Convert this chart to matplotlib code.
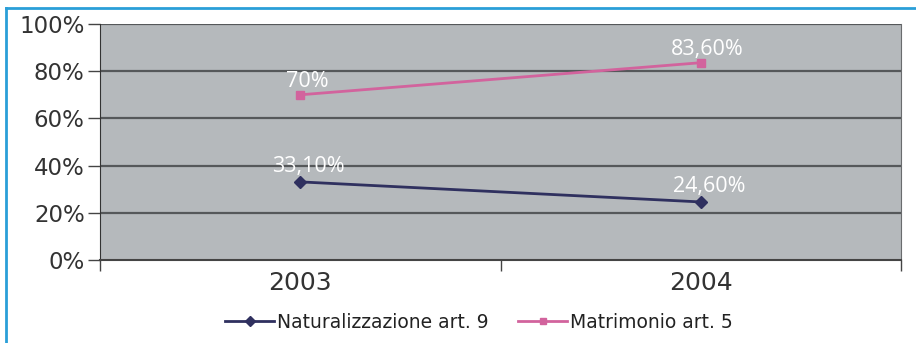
import matplotlib
matplotlib.use("Agg")
import matplotlib.pyplot as plt
from matplotlib.lines import Line2D
from matplotlib.ticker import FixedLocator

years = ["2003", "2004"]
naturalizzazione = [33.1, 24.6]
matrimonio = [70.0, 83.6]
nat_labels = ["33,10%", "24,60%"]
mat_labels = ["70%", "83,60%"]
y_ticks = [0, 20, 40, 60, 80, 100]
y_tick_labels = ["0%", "20%", "40%", "60%", "80%", "100%"]
series_names = ["Naturalizzazione art. 9", "Matrimonio art. 5"]

fig = plt.figure(figsize=(9.16, 3.43), dpi=100)
ax = fig.add_axes([100/916, 1-260/343, 801/916, 236/343])
ax.set_facecolor("#b5b9bc")

x = list(range(len(years)))
ax.set_xlim(-0.5, len(years) - 0.5)
ax.set_ylim(0, 100)

for yv in y_ticks[1:]:
    ax.axhline(yv, color="#55585a", lw=1.6, zorder=1)

nat_color = "#2f305f"
mat_color = "#d2639d"
ax.plot(x, naturalizzazione, color=nat_color, lw=2, marker="D", ms=6, zorder=3)
ax.plot(x, matrimonio, color=mat_color, lw=2, marker="s", ms=6, zorder=3)

for xi, v, t in zip(x, naturalizzazione, nat_labels):
    ax.annotate(t, (xi, v), xytext=(8, 15), textcoords="offset pixels",
                ha="center", va="center", color="white", fontsize=15.5, family="Open Sans")
for xi, v, t in zip(x, matrimonio, mat_labels):
    ax.annotate(t, (xi, v), xytext=(7, 13), textcoords="offset pixels",
                ha="center", va="center", color="white", fontsize=15.5, family="Open Sans")

ax.set_yticks(y_ticks)
ax.set_yticklabels(y_tick_labels, fontsize=16.5, color="#333333")
ax.tick_params(axis="y", length=9, width=1, color="#444444", pad=2)

ax.xaxis.set_major_locator(FixedLocator([-0.5, 0.5, 1.5]))
ax.set_xticklabels([])
ax.set_xticks(x, minor=True)
ax.set_xticklabels(years, minor=True, fontsize=18, color="#333333")
ax.tick_params(axis="x", which="major", length=8, width=1, color="#444444")
ax.tick_params(axis="x", which="minor", length=0, pad=8)

ax.spines["top"].set_visible(False)
ax.spines["left"].set_color("#333333")
ax.spines["bottom"].set_color("#444444")
ax.spines["bottom"].set_linewidth(1.5)
ax.spines["right"].set_color("#6a6c6e")

handles = [Line2D([], [], color=nat_color, lw=2, marker="D", ms=5),
           Line2D([], [], color=mat_color, lw=2, marker="s", ms=5)]
fig.legend(handles, series_names, loc="center", bbox_to_anchor=(479/916, 1-322/343),
           ncol=2, frameon=False, fontsize=13.5, handlelength=2.6, handletextpad=0.15,
           columnspacing=1.6, labelcolor="#222222")

# blue border
fig.add_artist(Line2D([6/916, 6/916], [0, 1-8/343], transform=fig.transFigure,
                      color="#2a9fd8", lw=2))
fig.add_artist(Line2D([6/916, 1], [1-8/343, 1-8/343], transform=fig.transFigure,
                      color="#2a9fd8", lw=2))

fig.savefig("out.png", dpi=100)
